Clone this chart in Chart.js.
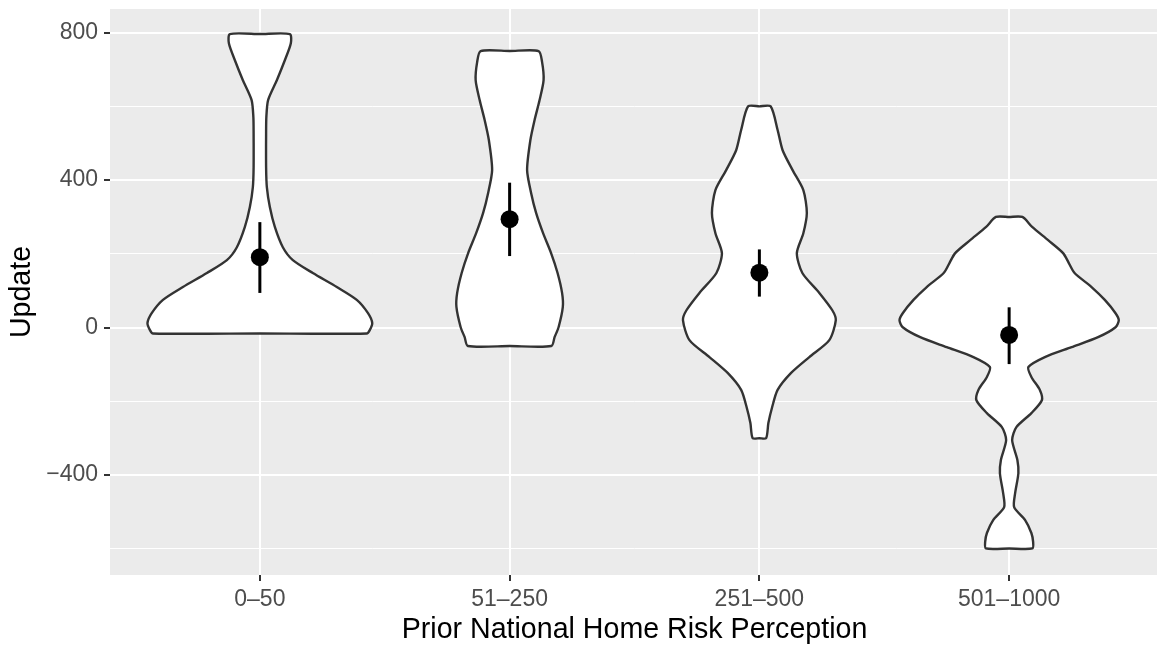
<!DOCTYPE html>
<html>
<head>
<meta charset="utf-8">
<script src="https://cdn.jsdelivr.net/npm/chart.js@4.4.1/dist/chart.umd.min.js"></script>
<style>
  html, body { margin: 0; padding: 0; background: #fff; overflow: hidden; }
  #wrap { width: 1157px; height: 645px; overflow: hidden; }
</style>
</head>
<body>
<div id="wrap"><canvas id="chart" width="1160" height="645"></canvas></div>
<script>
// categories on the x axis
const categories = ["0–50", "51–250", "251–500", "501–1000"];

// violin outlines: levels (Update values) and half widths (in category units)
const violinLevels = [
    [796, 771, 725, 671, 617, 571, 527, 435, 381, 327, 273, 218, 183, 148, 110, 75, 39, 12, -7, -16],
    [750, 720, 671, 617, 563, 508, 427, 365, 311, 256, 202, 148, 94, 56, 1, -26, -50],
    [600, 536, 481, 427, 373, 311, 256, 202, 148, 94, 47, 20, -34, -80, -123, -169, -216, -259, -300],
    [300, 273, 237, 202, 175, 148, 110, 75, 39, 20, 1, -26, -53, -80, -107, -134, -169, -197, -232, -270, -305, -359, -395, -449, -487, -522, -557, -581, -599],
];
const violinHalfWidths = [
    [0.120, 0.124, 0.100, 0.068, 0.033, 0.026, 0.025, 0.025, 0.028, 0.040, 0.060, 0.092, 0.132, 0.212, 0.308, 0.388, 0.433, 0.450, 0.440, 0.428],
    [0.116, 0.130, 0.136, 0.120, 0.100, 0.083, 0.070, 0.086, 0.106, 0.134, 0.166, 0.192, 0.210, 0.213, 0.196, 0.180, 0.167],
    [0.045, 0.073, 0.093, 0.133, 0.176, 0.190, 0.176, 0.150, 0.172, 0.240, 0.292, 0.306, 0.280, 0.200, 0.127, 0.073, 0.051, 0.036, 0.027],
    [0.053, 0.092, 0.156, 0.216, 0.239, 0.262, 0.330, 0.383, 0.426, 0.439, 0.426, 0.356, 0.250, 0.143, 0.077, 0.089, 0.123, 0.131, 0.089, 0.029, 0.012, 0.033, 0.037, 0.024, 0.020, 0.064, 0.089, 0.096, 0.093],
];

// mean and interval per category
const means = [191, 294, 149, -20];
const ciLow = [94, 194, 84, -99];
const ciHigh = [286, 393, 212, 55];

// y axis ticks
const yMajorTicks = [-400, 0, 400, 800];
const yMinorTicks = [-600, -200, 200, 600];

const FONT = "'Liberation Sans', Arial, Helvetica, sans-serif";

// violin polygon: top centre, right side down, bottom centre, left side up
function violinOutline(i) {
    const c = i + 1;
    const lv = violinLevels[i];
    const hw = violinHalfWidths[i];
    const pts = [{ x: c, y: lv[0] }];
    for (let k = 0; k < lv.length; k++) pts.push({ x: c + hw[k], y: lv[k] });
    pts.push({ x: c, y: lv[lv.length - 1] });
    for (let k = lv.length - 1; k >= 0; k--) pts.push({ x: c - hw[k], y: lv[k] });
    pts.push({ x: c, y: lv[0] });
    return pts;
}

const datasets = [];
categories.forEach((cat, i) => {
    datasets.push({
        label: cat,
        data: violinOutline(i),
        showLine: true,
        fill: "shape",
        backgroundColor: "#ffffff",
        borderColor: "#333333",
        borderWidth: 2.4,
        tension: 0.25,
        pointRadius: 0,
        order: 3,
    });
    datasets.push({
        label: cat + " interval",
        data: [{ x: i + 1, y: ciLow[i] }, { x: i + 1, y: ciHigh[i] }],
        showLine: true,
        borderColor: "#000000",
        borderWidth: 3,
        pointRadius: 0,
        order: 2,
    });
});
datasets.push({
    label: "mean",
    data: means.map((m, i) => ({ x: i + 1, y: m })),
    pointRadius: 9,
    pointBackgroundColor: "#000000",
    pointBorderWidth: 0,
    order: 1,
});

// grey panel background
const panelBg = {
    id: "panelBg",
    beforeDraw(chart) {
        const { ctx, chartArea: a } = chart;
        ctx.save();
        ctx.fillStyle = "#EBEBEB";
        ctx.fillRect(a.left, a.top, a.right - a.left, a.bottom - a.top);
        ctx.restore();
    },
};

// stretch the panel to the right edge of the canvas (ggplot has no right gap)
const fullWidth = {
    id: "fullWidth",
    afterLayout(chart) {
        const a = chart.chartArea;
        const x = chart.scales.x;
        a.right = chart.width - 1;
        a.width = a.right - a.left;
        x.right = a.right;
        x.width = x.right - x.left;
        x.configure();
    },
};

const isMajor = (v) => yMajorTicks.includes(v);

// no extra room for overhanging tick labels
function noPadding(s) {
    s.paddingTop = 0;
    s.paddingBottom = 0;
    s.paddingLeft = 0;
    s.paddingRight = 0;
}

new Chart(document.getElementById("chart"), {
    type: "scatter",
    data: { datasets },
    plugins: [panelBg, fullWidth],
    options: {
        responsive: false,
        animation: false,
        layout: { padding: { top: 9, right: 1, left: 0, bottom: 0 } },
        plugins: { legend: { display: false }, tooltip: { enabled: false } },
        scales: {
            x: {
                type: "linear",
                min: 0.4,
                max: 4.6,
                afterBuildTicks: (s) => { s.ticks = categories.map((c, i) => ({ value: i + 1 })); },
                afterFit: (s) => { s.height = 70; noPadding(s); },
                ticks: {
                    autoSkip: false,
                    maxRotation: 0,
                    padding: 5,
                    color: "#4D4D4D",
                    font: { family: FONT, size: 23 },
                    callback: (v) => categories[v - 1],
                },
                grid: {
                    color: "#ffffff",
                    lineWidth: 2,
                    drawTicks: true,
                    tickLength: 6,
                    tickColor: "#333333",
                    tickWidth: 2,
                },
                border: { display: false },
                title: {
                    display: true,
                    text: "Prior National Home Risk Perception",
                    color: "#000000",
                    font: { family: FONT, size: 28.6, lineHeight: 1 },
                    padding: { top: 0, bottom: 1 },
                },
            },
            y: {
                type: "linear",
                min: -671,
                max: 864,
                afterBuildTicks: (s) => {
                    s.ticks = yMinorTicks.concat(yMajorTicks).sort((a, b) => a - b).map((v) => ({ value: v }));
                },
                afterFit: (s) => { s.width = 110; noPadding(s); },
                ticks: {
                    autoSkip: false,
                    padding: 6,
                    color: "#4D4D4D",
                    font: { family: FONT, size: 23 },
                    callback: (v) => (isMajor(v) ? String(v).replace("-", "\u2212") : ""),
                },
                grid: {
                    color: "#ffffff",
                    lineWidth: (c) => (isMajor(c.tick.value) ? 2 : 1),
                    drawTicks: true,
                    tickLength: 6,
                    tickColor: (c) => (isMajor(c.tick.value) ? "#333333" : "rgba(0,0,0,0)"),
                    tickWidth: 2,
                },
                border: { display: false },
                title: {
                    display: true,
                    text: "Update",
                    color: "#000000",
                    font: { family: FONT, size: 28.6, lineHeight: 1 },
                    padding: { top: 8, bottom: 0 },
                },
            },
        },
    },
});
</script>
</body>
</html>
